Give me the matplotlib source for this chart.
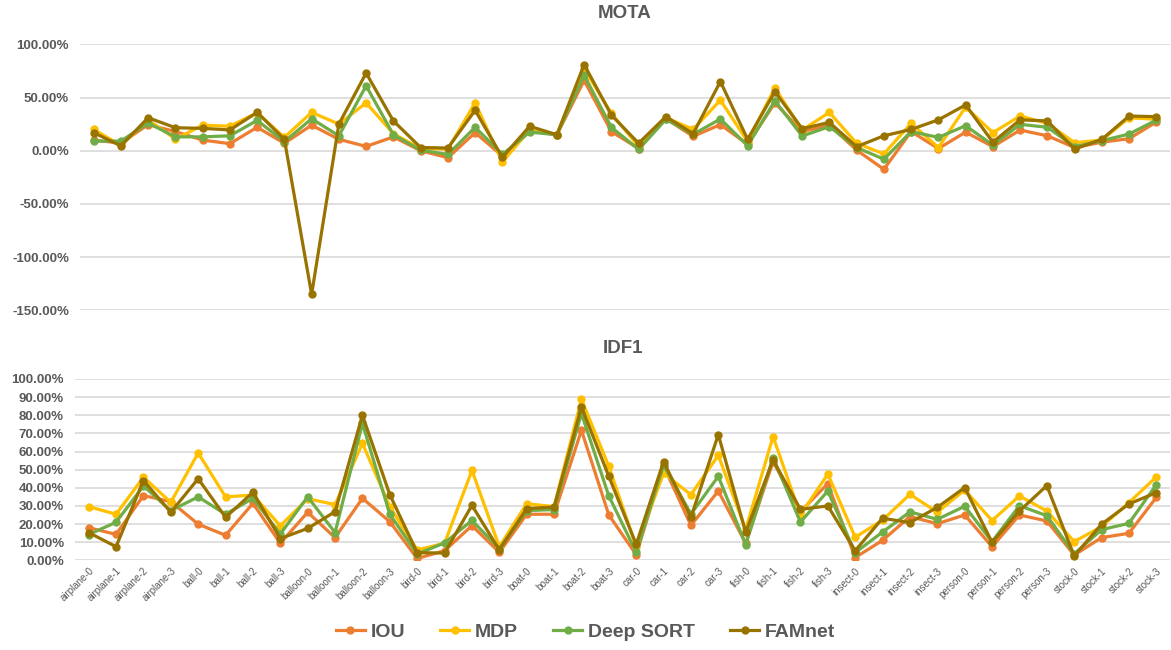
import matplotlib
matplotlib.use("Agg")
import matplotlib.pyplot as plt
from matplotlib.ticker import PercentFormatter

plt.rcParams['font.family'] = ['Liberation Sans', 'DejaVu Sans']
plt.rcParams['axes.unicode_minus'] = False

categories = [
    "airplane-0", "airplane-1", "airplane-2", "airplane-3",
    "ball-0", "ball-1", "ball-2", "ball-3",
    "balloon-0", "balloon-1", "balloon-2", "balloon-3",
    "bird-0", "bird-1", "bird-2", "bird-3",
    "boat-0", "boat-1", "boat-2", "boat-3",
    "car-0", "car-1", "car-2", "car-3",
    "fish-0", "fish-1", "fish-2", "fish-3",
    "insect-0", "insect-1", "insect-2", "insect-3",
    "person-0", "person-1", "person-2", "person-3",
    "stock-0", "stock-1", "stock-2", "stock-3",
]

# MOTA (%)
mota_iou = [10, 7, 24.5, 18, 10, 6.6, 22, 7, 24, 10.7, 4, 13,
            0, -6.6, 17, -5, 18.5, 15, 66, 18, 2, 30, 13.5, 24.5,
            6, 45, 18, 24, 0.6, -17.5, 18, 2, 17.5, 3.8, 19.4, 14,
            3, 8, 11.3, 27]
mota_mdp = [20, 5, 29, 11, 24, 23, 35.7, 12.5, 36, 25, 45, 16,
            2, 1.5, 45, -10.7, 19.5, 15, 77, 35, 4, 31, 20, 47.6,
            8.5, 59, 19.4, 36, 7, -3, 25.7, 3, 41, 17, 32.6, 25.7,
            7.5, 10, 31, 29.5]
mota_deepsort = [9, 9, 26, 13, 13, 14, 28.5, 8.5, 30, 14, 61, 15,
                 0.6, -3.5, 22, -3.5, 17.5, 15, 71, 22, 1.2, 29.5, 15.4, 29.8,
                 4.7, 47, 13.8, 22.6, 3, -8, 18, 12.5, 23.5, 5.3, 24.8, 22,
                 3.8, 9.4, 15.7, 28.8]
mota_famnet = [17, 4.5, 31, 21.6, 21, 19.5, 36, 10.7, -135, 25, 73, 28,
               3, 2.5, 38, -6.3, 23, 15, 81, 33.5, 7, 32, 16, 65,
               10.7, 55.5, 20.7, 26.6, 3.8, 14, 20, 29, 43, 8, 29, 28,
               1.5, 10.7, 32.6, 32]

# IDF1 (%)
idf1_iou = [18, 14.3, 35.7, 32.4, 19.9, 13.8, 31.4, 9.4, 26.5, 12.5, 34.2, 21.3,
            1, 5.3, 19.1, 4.4, 25.4, 25.4, 71.7, 25, 3.1, 52, 19.3, 38.2,
            9.4, 54.4, 26.8, 42.3, 1.5, 11, 24.1, 20.2, 25, 7.5, 25, 21.7,
            2.9, 12.5, 14.9, 34.7]
idf1_mdp = [29.6, 25.4, 45.8, 32, 59.2, 35, 36, 19, 34, 30.7, 64.5, 29.6,
            5.7, 9.4, 49.6, 7.5, 31.2, 29.6, 88.8, 51.8, 7.5, 48, 36.2, 57.9,
            17, 68.2, 25, 47.6, 12.7, 22.2, 36.4, 26.5, 38.8, 21.9, 35.5, 27.2,
            10.3, 18.6, 31.8, 46]
idf1_deepsort = [14.2, 21, 41, 27.4, 35, 25.4, 34.2, 14.5, 35, 15.3, 75.5, 25.4,
                 3.5, 9.6, 22, 6.4, 27.4, 28, 81, 35.5, 4.4, 52.6, 25.5, 46.3,
                 8.6, 56.6, 21.1, 38.2, 4.2, 15.6, 26.7, 22.6, 29.8, 10.3, 30.1, 24.6,
                 3.5, 16.9, 20.4, 41.7]
idf1_famnet = [15.3, 7.5, 44, 26.5, 45, 23.7, 37.5, 12, 17.6, 26.8, 80, 36.2,
               4.2, 4, 30.3, 5.7, 28.5, 29.4, 84.6, 46.3, 8.8, 54.4, 23.7, 69.3,
               15.4, 55.3, 28.1, 30, 5.3, 23.2, 20.8, 29.2, 40.1, 9.9, 27.2, 41.2,
               2.4, 19.9, 31.1, 37.3]

series_names = ["IOU", "MDP", "Deep SORT", "FAMnet"]
colors = ["#ED7D31", "#FFC000", "#70AD47", "#997300"]
text_color = "#595959"
grid_color = "#D9D9D9"

fig = plt.figure(figsize=(11.71, 6.5), dpi=100)
ax1 = fig.add_axes([80 / 1171, 1 - 310.3 / 650, 1090 / 1171, 266 / 650])
ax2 = fig.add_axes([75 / 1171, 1 - 560.3 / 650, 1095 / 1171, 181.3 / 650])

x = list(range(len(categories)))


def style_axis(ax, title, yticks, ylim):
    ax.set_xlim(-0.5, len(categories) - 0.5)
    ax.set_ylim(*ylim)
    ax.set_yticks(yticks)
    ax.yaxis.set_major_formatter(PercentFormatter(decimals=2))
    ax.grid(axis="y", color=grid_color, linewidth=1.2)
    ax.set_axisbelow(True)
    for s in ax.spines.values():
        s.set_visible(False)
    ax.tick_params(axis="y", length=0, labelsize=9.5, labelcolor=text_color, pad=8)
    for lab in ax.get_yticklabels():
        lab.set_fontweight("bold")
    ax.set_title(title, fontsize=13.5, fontweight="bold", color=text_color, pad=19)


for vals, name, c in zip([mota_iou, mota_mdp, mota_deepsort, mota_famnet], series_names, colors):
    ax1.plot(x, vals, color=c, linewidth=2.3, marker="o", markersize=5, label=name)
style_axis(ax1, "MOTA", [-150, -100, -50, 0, 50, 100], (-150, 100))
ax1.set_xticks(x)
ax1.tick_params(axis="x", length=0, labelbottom=False)

for vals, name, c in zip([idf1_iou, idf1_mdp, idf1_deepsort, idf1_famnet], series_names, colors):
    ax2.plot(x, vals, color=c, linewidth=2.3, marker="o", markersize=5, label=name)
style_axis(ax2, "IDF1", list(range(0, 101, 10)), (0, 100))
ax2.set_xticks(x)
ax2.set_xticklabels(categories, rotation=45, ha="right", rotation_mode="anchor",
                    fontsize=7, color=text_color)
ax2.tick_params(axis="x", length=0, pad=4)

handles, labels = ax2.get_legend_handles_labels()
leg = fig.legend(handles, labels, loc="center", bbox_to_anchor=(0.5, 1 - 632 / 650),
                 ncol=4, frameon=False, fontsize=14, handlelength=1.5,
                 columnspacing=1.8, handletextpad=0.3)
for t in leg.get_texts():
    t.set_color(text_color)
    t.set_fontweight("bold")

fig.savefig("out.png", dpi=100)
